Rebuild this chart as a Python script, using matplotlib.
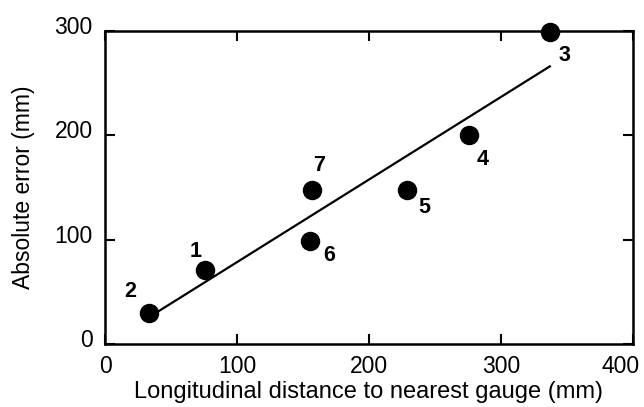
import numpy as np
import matplotlib
matplotlib.use("Agg")
import matplotlib.pyplot as plt
from matplotlib.transforms import ScaledTranslation

# Gauge-by-gauge measurements
gauge_ids = ["1", "2", "3", "4", "5", "6", "7"]
distance_mm = [76, 33, 337, 276, 229, 155, 157]
abs_error_mm = [71, 30, 299, 200, 148, 99, 148]

x_ticks = [0, 100, 200, 300, 400]
y_ticks = [0, 100, 200, 300]

# Label placement around each marker (pixels, x right / y up)
label_offsets = {
    "1": (-10, 18),
    "2": (-18, 21),
    "3": (15, -23),
    "4": (13, -24),
    "5": (17, -18),
    "6": (20, -15),
    "7": (7, 24),
}

plt.rcParams["font.family"] = ["Liberation Sans", "DejaVu Sans"]

fig = plt.figure(figsize=(6.44, 4.07), dpi=100)
ax = fig.add_axes([105 / 644, 1 - 344 / 407, 528 / 644, 313 / 407])

# Least-squares trend line across the measured range
slope, intercept = np.polyfit(distance_mm, abs_error_mm, 1)
xs = np.array([min(distance_mm), max(distance_mm)])
ax.plot(xs, slope * xs + intercept, color="black", lw=1.6, zorder=2)

ax.plot(distance_mm, abs_error_mm, "o", color="black", markersize=13,
        zorder=3, clip_on=False)

for gid, xv, yv in zip(gauge_ids, distance_mm, abs_error_mm):
    dx, dy = label_offsets[gid]
    ax.annotate(gid, (xv, yv), xytext=(dx, dy), textcoords="offset pixels",
                ha="center", va="center", fontsize=15.5, fontweight="bold")

ax.set_xlim(0, 400)
ax.set_ylim(0, 300)
ax.set_xticks(x_ticks)
ax.set_yticks(y_ticks)
ax.tick_params(direction="in", length=7, width=1.5, labelsize=16.5,
               top=True, right=True)
ax.tick_params(axis="x", pad=8)
ax.tick_params(axis="y", pad=9)
for s in ax.spines.values():
    s.set_linewidth(1.8)

ax.set_xlabel("Longitudinal distance to nearest gauge (mm)", fontsize=17,
              labelpad=2)
ax.set_ylabel("Absolute error (mm)", fontsize=16.5)
ax.yaxis.set_label_coords(-0.133, 0.5)

# Nudge tick labels: y labels sit slightly high, last x label pulled inward
for lab in ax.get_yticklabels():
    lab.set_transform(lab.get_transform() +
                      ScaledTranslation(0, 6 / 100, fig.dpi_scale_trans))
xl = ax.get_xticklabels()
xl[-1].set_transform(xl[-1].get_transform() +
                     ScaledTranslation(-12 / 100, 0, fig.dpi_scale_trans))

fig.savefig("out.png", dpi=100)
